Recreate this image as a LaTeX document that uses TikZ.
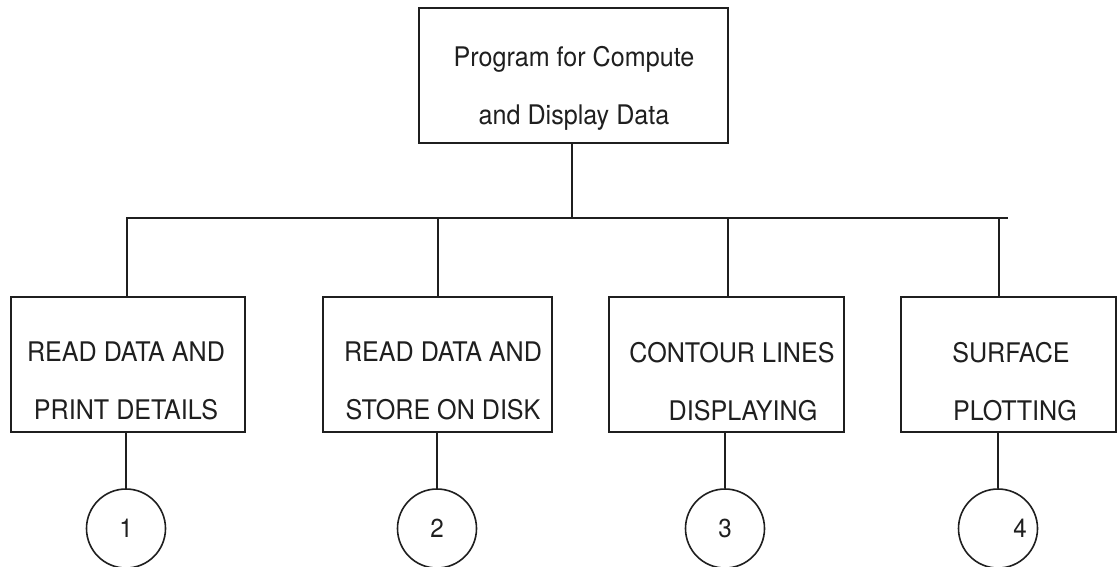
\documentclass[tikz,border=0pt]{standalone}
\usepackage{fontspec}
\setmainfont{TeX Gyre Heros}[FakeStretch=0.93]
\usetikzlibrary{calc}
\begin{document}
\begin{tikzpicture}[x=1pt,y=-1pt,
  ln/.style={line width=1.6pt, draw=black!88},
  box/.style={ln, rectangle, inner sep=0pt, minimum height=135pt},
  txt/.style={anchor=north, align=center, inner sep=0pt, font=\fontsize{27}{58}\selectfont, text=black!88},
  circ/.style={ln, circle, inner sep=0pt, minimum size=79pt, font=\fontsize{26}{30}\selectfont, text=black!88},
  numlab/.style={font=\fontsize{26}{30}\selectfont, text=black!88, inner sep=0pt}]
\useasboundingbox (0,0) rectangle (1118,566);
\fill[white] (0,0) rectangle (1118,566);

% boxes
\node[box, minimum width=309pt] (b0) at (573.5,75.5) {};
\node[box, minimum width=234pt] (b1) at (128,364.5) {};
\node[box, minimum width=229pt] (b2) at (437.5,364.5) {};
\node[box, minimum width=235pt] (b3) at (726.5,364.5) {};
\node[box, minimum width=215pt] (b4) at (1008.5,364.5) {};

% texts
\node[txt] (t0) at (574,46) {Program for Compute\\and Display Data};
\node[txt] (t1) at (126,342) {READ DATA AND\\PRINT DETAILS};
\node[txt] (t2) at (443,342) {READ DATA AND\\STORE ON DISK};
\node[txt] (t3) at (732,342) {CONTOUR LINES\\\hspace*{22pt}DISPLAYING};
\node[txt] (t4) at (1011,342) {SURFACE\\\hspace*{8pt}PLOTTING};

% circles
\node[circ] (c1) at (126,528.5) {1};
\node[circ] (c2) at (437,528.5) {2};
\node[circ] (c3) at (725,528.5) {3};
\node[circ, label={[numlab, xshift=22pt]center:4}] (c4) at (998,528.5) {};

% bus
\coordinate (busL) at (127,218);
\coordinate (busR) at (1008,218);
\coordinate (top) at (572,218);
\coordinate (j2) at (438,218);
\coordinate (j3) at (728,218);
\coordinate (j4) at (999,218);

\draw[ln] (b0.south -| top) -- (top);
\draw[ln, line join=miter] (busL |- b1.north) -- (busL) -- (busR);
\draw[ln] (j2) -- (j2 |- b2.north);
\draw[ln] (j3) -- (j3 |- b3.north);
\draw[ln] (j4) -- (j4 |- b4.north);

% box to circle
\draw[ln] (b1.south -| c1) -- (c1.north);
\draw[ln] (b2.south -| c2) -- (c2.north);
\draw[ln] (b3.south -| c3) -- (c3.north);
\draw[ln] (b4.south -| c4) -- (c4.north);
\end{tikzpicture}
\end{document}
